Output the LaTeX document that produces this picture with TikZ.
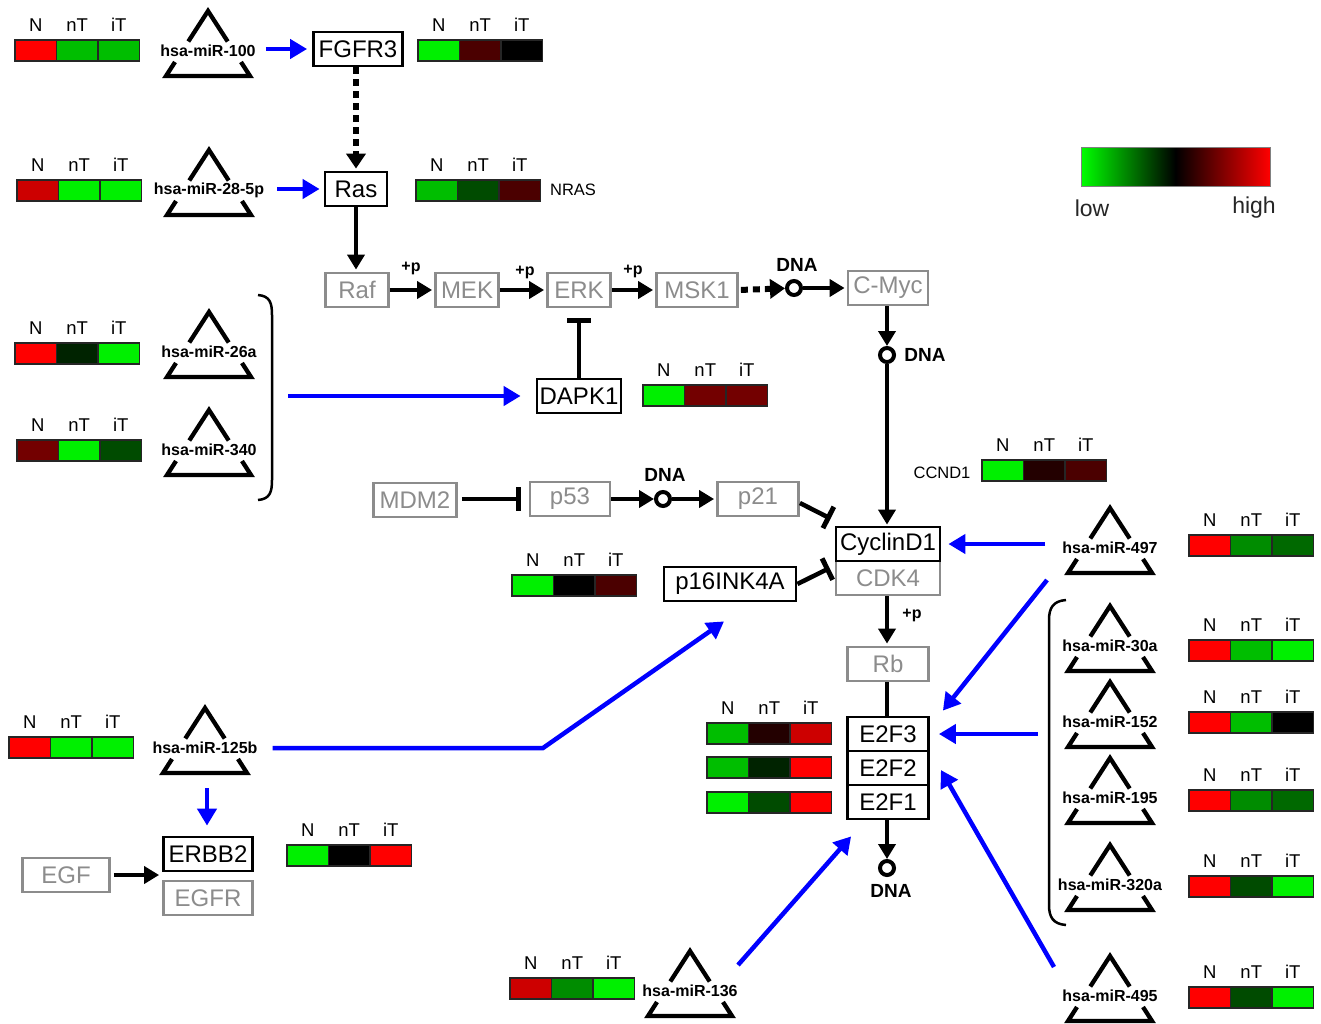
\documentclass[tikz,border=0pt]{standalone}
\usepackage{fontspec}
\setmainfont{Liberation Sans}
\usetikzlibrary{arrows.meta}
\definecolor{gcol}{RGB}{140,140,140}
\definecolor{bl}{RGB}{0,0,255}
\definecolor{hR}{RGB}{255,0,0}
\definecolor{hRR}{RGB}{205,0,0}
\definecolor{hDR}{RGB}{115,0,0}
\definecolor{hDRR}{RGB}{75,0,0}
\definecolor{hVDR}{RGB}{35,0,0}
\definecolor{hK}{RGB}{0,0,0}
\definecolor{hVDG}{RGB}{0,35,0}
\definecolor{hDG}{RGB}{0,75,0}
\definecolor{hDGG}{RGB}{0,105,0}
\definecolor{hMG}{RGB}{0,140,0}
\definecolor{hG}{RGB}{0,190,0}
\definecolor{hBG}{RGB}{0,240,0}
\definecolor{lgreen}{RGB}{0,255,0}
\tikzset{
 bgene/.style={draw=black, line width=2.8pt, text=black, inner sep=0pt, minimum height=34pt, font=\fontsize{24}{28}\selectfont},
 ggene/.style={bgene, draw=gcol, text=gcol},
 mirlab/.style={font=\bfseries\fontsize{16}{19}\selectfont, inner sep=1pt},
 tri/.style={line width=4.3pt, line join=miter},
 cell/.style={draw=black!85, line width=1.5pt, minimum width=41.5pt, minimum height=21pt, inner sep=0pt, outer sep=0pt},
 hlab/.style={font=\fontsize{18.5}{22}\selectfont, inner sep=0pt, anchor=base},
 barr/.style={draw=bl, line width=4.5pt, -{Triangle[length=17pt,width=19pt]}},
 karr/.style={line width=4.5pt, -{Triangle[length=15pt,width=17pt]}},
 kline/.style={line width=4.5pt},
 kinh/.style={line width=4.5pt, -{Bar[width=24pt,line width=5pt]}},
 kdot/.style={line width=6pt, dash pattern=on 7pt off 5pt, -{Triangle[length=15pt,width=19pt]}},
 dnac/.style={circle, draw, line width=4pt, minimum size=14pt, inner sep=0pt},
 dnat/.style={font=\bfseries\fontsize{19}{22}\selectfont, inner sep=0pt},
 plab/.style={font=\bfseries\fontsize{16}{18}\selectfont, inner sep=0pt},
 sidelab/.style={font=\fontsize{16.5}{19}\selectfont, inner sep=0pt},
 leglab/.style={font=\fontsize{23}{27}\selectfont, text=black!85, inner sep=0pt},
 brk/.style={line width=2.5pt},
}
\newcommand\mir[4]{%
 \node[mirlab] (#1) at (#2,#3) {#4};
 \draw[tri] ([shift={(-19.7,-9.5)}]#1.center) -- ([shift={(0,-40)}]#1.center) -- ([shift={(19.7,-9.5)}]#1.center);
 \draw[tri] ([shift={(-33,11)}]#1.center) -- ([shift={(-42,25)}]#1.center) -- ([shift={(42,25)}]#1.center) -- ([shift={(33,11)}]#1.center);
}
\newcommand\hrow[6]{%
 \node[cell,fill=#4,anchor=north west] (#1a) at (#2,#3) {};
 \node[cell,fill=#5,anchor=north west] (#1b) at (#1a.north east) {};
 \node[cell,fill=#6,anchor=north west] (#1c) at (#1b.north east) {};
}
\newcommand\hmap[6]{%
 \hrow{#1}{#2}{#3}{#4}{#5}{#6}
 \node[hlab] (#1la) at ([yshift=9pt]#1a.north) {N};
 \node[hlab] (#1lb) at ([yshift=9pt]#1b.north) {nT};
 \node[hlab] (#1lc) at ([yshift=9pt]#1c.north) {iT};
}
\begin{document}
\begin{tikzpicture}[x=1pt,y=-1pt]
\fill[white] (0,0) rectangle (1321,1023);
\useasboundingbox (0,0) rectangle (1321,1023);

% heatmaps
\hmap{ha}{15}{40}{hR}{hG}{hG}
\hmap{hb}{418}{40}{hBG}{hDRR}{hK}
\hmap{hc}{17}{180}{hRR}{hBG}{hBG}
\hmap{hd}{416}{180}{hG}{hDG}{hDRR}
\hmap{he}{15}{343}{hR}{hVDG}{hBG}
\hmap{hf}{17}{440}{hDR}{hBG}{hDG}
\hmap{hg}{643}{385}{hBG}{hDR}{hDR}
\hmap{hh}{982}{460}{hBG}{hVDR}{hDRR}
\hmap{hi}{512}{575}{hBG}{hK}{hDRR}
\hmap{hj}{1189}{535}{hR}{hMG}{hDGG}
\hmap{hk}{1189}{640}{hR}{hG}{hBG}
\hmap{hl}{1189}{712}{hR}{hG}{hK}
\hmap{hm}{1189}{790}{hR}{hMG}{hDGG}
\hmap{hn}{1189}{876}{hR}{hDG}{hBG}
\hmap{ho}{1189}{987}{hR}{hDG}{hBG}
\hmap{hp}{707}{723}{hG}{hVDR}{hRR}
\hrow{hq}{707}{757}{hG}{hVDG}{hR}
\hrow{hr}{707}{792}{hBG}{hDG}{hR}
\hmap{hs}{9}{737}{hR}{hBG}{hBG}
\hmap{ht}{287}{845}{hBG}{hK}{hR}
\hmap{hu}{510}{978}{hRR}{hMG}{hBG}

\node[sidelab] (nras) at (573,190) {NRAS};
\node[sidelab] (ccnd1) at (942,473) {CCND1};

% miRNAs
\mir{m100}{208}{51}{hsa-miR-100}
\mir{m28}{209}{190}{hsa-miR-28-5p}
\mir{m26}{209}{352}{hsa-miR-26a}
\mir{m340}{209}{450}{hsa-miR-340}
\mir{m125}{205}{748}{hsa-miR-125b}
\mir{m136}{690}{991}{hsa-miR-136}
\mir{m497}{1110}{548}{hsa-miR-497}
\mir{m30}{1110}{646}{hsa-miR-30a}
\mir{m152}{1110}{722}{hsa-miR-152}
\mir{m195}{1110}{798}{hsa-miR-195}
\mir{m320}{1110}{885}{hsa-miR-320a}
\mir{m495}{1110}{996}{hsa-miR-495}

% genes
\node[bgene, minimum width=89pt] (fgfr3) at (358,49) {FGFR3};
\node[bgene, minimum width=62pt] (ras) at (356,189) {Ras};
\node[ggene, minimum width=63pt] (raf) at (357,290) {Raf};
\node[ggene, minimum width=63pt] (mek) at (467,290) {MEK};
\node[ggene, minimum width=63pt] (erk) at (579,290) {ERK};
\node[ggene, minimum width=81pt] (msk1) at (697,290) {MSK1};
\node[ggene, minimum width=80pt] (cmyc) at (888,288) {C-Myc};
\node[bgene, minimum width=84pt] (dapk1) at (579,396) {DAPK1};
\node[ggene, minimum width=83pt] (mdm2) at (415,500) {MDM2};
\node[ggene, minimum width=80pt] (p53) at (570,499) {p53};
\node[ggene, minimum width=81pt] (p21) at (758,499) {p21};
\node[ggene, minimum width=104pt] (cdk4) at (888,578) {CDK4};
\node[bgene, minimum width=104pt] (cyc) at (888,544) {CyclinD1};
\node[bgene, minimum width=132pt] (p16) at (730,584) {p16INK4A};
\node[ggene, minimum width=81pt] (rb) at (888,664) {Rb};
\node[bgene, minimum width=81pt] (e2f3) at (888,734) {E2F3};
\node[bgene, minimum width=81pt] (e2f2) at (888,768) {E2F2};
\node[bgene, minimum width=81pt] (e2f1) at (888,802) {E2F1};
\node[bgene, minimum width=89pt] (erbb2) at (208,854) {ERBB2};
\node[ggene, minimum width=89pt] (egfr) at (208,898) {EGFR};
\node[ggene, minimum width=87pt] (egf) at (66,875) {EGF};

% DNA
\node[dnac] (dna1) at (794,288) {};
\node[dnat] (dna1l) at (797,265) {DNA};
\node[dnac] (dna2) at (887,355) {};
\node[dnat] (dna2l) at (925,355) {DNA};
\node[dnac] (dna3) at (663,499) {};
\node[dnat] (dna3l) at (665,475) {DNA};
\node[dnac] (dna4) at (887,868) {};
\node[dnat] (dna4l) at (891,891) {DNA};

% +p
\node[plab] (p1) at (411,268) {+p};
\node[plab] (p2) at (525,272) {+p};
\node[plab] (p3) at (633,271) {+p};
\node[plab] (p4) at (912,615) {+p};

% legend
\shade[left color=lgreen, right color=red, middle color=black] (1081,147) rectangle (1270,186);
\draw[gray, line width=0.8pt] (1081,147) rectangle (1270,186);
\node[leglab] (low) at (1092,208) {low};
\node[leglab] (high) at (1254,208) {high};

% brackets
\draw[brk] (258,295) .. controls (270,296) and (272,303) .. (272,315) -- (272,480) .. controls (272,492) and (270,499) .. (258,500);
\draw[brk] (1066,600) .. controls (1053,601) and (1049,608) .. (1049,620) -- (1049,905) .. controls (1049,917) and (1053,924) .. (1066,925);
\coordinate (brk1) at (288,396);
\coordinate (brk2) at (1038,734);
\coordinate (bend125) at (543,748);
\coordinate (m125b) at (207,788);

% black connectors
\draw[kdot, shorten >=2pt] (ras.north |- fgfr3.south) -- (ras.north);
\draw[karr, shorten >=2pt] (ras.south) -- (ras.south |- raf.north);
\draw[karr, shorten >=2pt] (raf.east) -- (mek.west);
\draw[karr, shorten >=2pt] (mek.east) -- (erk.west);
\draw[karr, shorten >=2pt] (erk.east) -- (msk1.west);
\draw[kdot, shorten <=2pt] (msk1.east) -- (dna1);
\draw[karr, shorten >=2pt] (dna1) -- (cmyc.west);
\draw[karr] (dna2 |- cmyc.south) -- (dna2);
\draw[karr, shorten >=1pt] (dna2) -- (dna2 |- cyc.north);
\draw[kinh] (dapk1.north) -- ([yshift=-10pt]erk.south);
\draw[kinh, shorten <=4pt, shorten >=8pt] (mdm2.east |- p53.west) -- (p53.west);
\draw[karr] (p53.east) -- (dna3);
\draw[karr, shorten >=2pt] (dna3) -- (p21.west);
\draw[kinh] ([yshift=-4pt]p21.east) -- ([shift={(-4,-7)}]cyc.north west);
\draw[kinh] (p16.east) -- ([shift={(-5,-10)}]cdk4.west);
\draw[karr, shorten >=2pt] (dna2 |- cdk4.south) -- (dna2 |- rb.north);
\draw[kline] (dna2 |- rb.south) -- (dna2 |- e2f3.north);
\draw[karr] (dna4 |- e2f1.south) -- (dna4);
\draw[karr, shorten <=3pt, shorten >=3pt] (egf.east) -- (egf.east -| egfr.west);

% blue connectors
\draw[barr, shorten <=9pt, shorten >=5pt] (m100.east |- fgfr3.west) -- (fgfr3.west);
\draw[barr, shorten <=12pt, shorten >=4pt] (m28.east |- ras.west) -- (ras.west);
\draw[barr, shorten >=15pt] (brk1) -- (brk1 -| dapk1.west);
\draw[barr, shorten <=16pt, shorten >=7pt] (m497.west |- cyc.east) -- (cyc.east);
\draw[barr] ([shift={(-63,32)}]m497.center) -- ([shift={(13,-5)}]e2f3.north east);
\draw[barr, shorten >=9pt] (brk2) -- (e2f3.east);
\draw[barr] ([shift={(-56,-29)}]m495.center) -- ([shift={(11,2)}]e2f2.east);
\draw[barr] ([shift={(48,-26)}]m136.center) -- ([shift={(5,16)}]e2f1.south west);
\draw[barr, shorten <=14pt] (m125.east) -- (bend125) -- ([shift={(-6,19)}]p16.south);
\draw[barr, shorten >=10pt] (m125b) -- (m125b |- erbb2.north);
\end{tikzpicture}
\end{document}
